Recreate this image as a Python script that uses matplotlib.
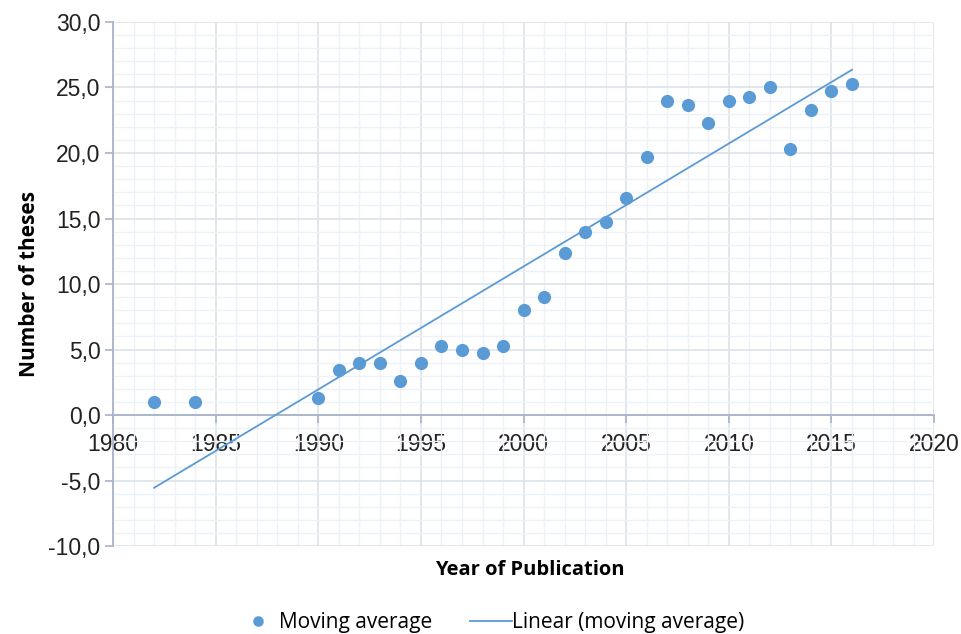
import numpy as np
import matplotlib.pyplot as plt
from matplotlib.ticker import MultipleLocator, FuncFormatter

years = [1982, 1984, 1990, 1991, 1992, 1993, 1994, 1995, 1996, 1997, 1998, 1999,
         2000, 2001, 2002, 2003, 2004, 2005, 2006, 2007, 2008, 2009, 2010, 2011,
         2012, 2013, 2014, 2015, 2016]
moving_avg = [1.0, 1.0, 1.3, 3.4, 4.0, 4.0, 2.6, 4.0, 5.3, 5.0, 4.7, 5.3,
              8.0, 9.0, 12.4, 14.0, 14.7, 16.6, 19.7, 24.0, 23.7, 22.3, 24.0, 24.3,
              25.0, 20.3, 23.3, 24.7, 25.3]

blue = '#5b9bd5'
spine_col = '#a7b3c9'

plt.rcParams['font.family'] = ['Liberation Sans', 'DejaVu Sans']

fig = plt.figure(figsize=(9.62, 6.34), dpi=100)
ax = fig.add_axes([0.1175, 0.1388, 0.8535, 0.8265])

# trendline from a least squares fit
coef = np.polyfit(years, moving_avg, 1)
xs = np.array([years[0], years[-1]])
ax.plot(xs, np.polyval(coef, xs), '-', color=blue, lw=1.3, label='Linear (moving average)', zorder=3)
ax.plot(years, moving_avg, 'o', color=blue, markersize=9.5, markeredgewidth=0, label='Moving average', zorder=4)

ax.set_xlim(1980, 2020)
ax.set_ylim(-10, 30)
ax.xaxis.set_major_locator(MultipleLocator(5))
ax.xaxis.set_minor_locator(MultipleLocator(1))
ax.yaxis.set_major_locator(MultipleLocator(5))
ax.yaxis.set_minor_locator(MultipleLocator(1))
ax.yaxis.set_major_formatter(FuncFormatter(lambda v, p: f'{v:.1f}'.replace('.', ',')))

ax.grid(which='major', color='#dde2ea', lw=1.2)
ax.grid(which='minor', color='#eef1f5', lw=1.0)
ax.set_axisbelow(True)

for s in ['top', 'right']:
    ax.spines[s].set_visible(False)
ax.spines['bottom'].set_position(('data', 0))
ax.spines['bottom'].set_color(spine_col)
ax.spines['left'].set_color(spine_col)
ax.spines['bottom'].set_linewidth(1.3)
ax.spines['left'].set_linewidth(1.3)
ax.tick_params(which='major', length=6, width=1.2, color=spine_col, labelsize=16.5, labelcolor='#222222')
ax.tick_params(which='minor', length=0)
ax.tick_params(axis='x', pad=7)
ax.tick_params(axis='y', pad=3)

ax.set_ylabel('Number of theses', fontsize=15, fontweight='bold', family='Open Sans', labelpad=6)
fig.text(0.551, 0.101, 'Year of Publication', ha='center', va='center', fontsize=14.5,
         fontweight='bold', family='Open Sans')

h, l = ax.get_legend_handles_labels()
fig.legend(h[::-1], l[::-1], loc='center', bbox_to_anchor=(0.51, 0.018), ncol=2, frameon=False,
           prop={'family': 'Open Sans', 'size': 15}, handlelength=2.0, columnspacing=1.8,
           handletextpad=0.0, markerscale=0.8)

fig.savefig('out.png', dpi=100)
